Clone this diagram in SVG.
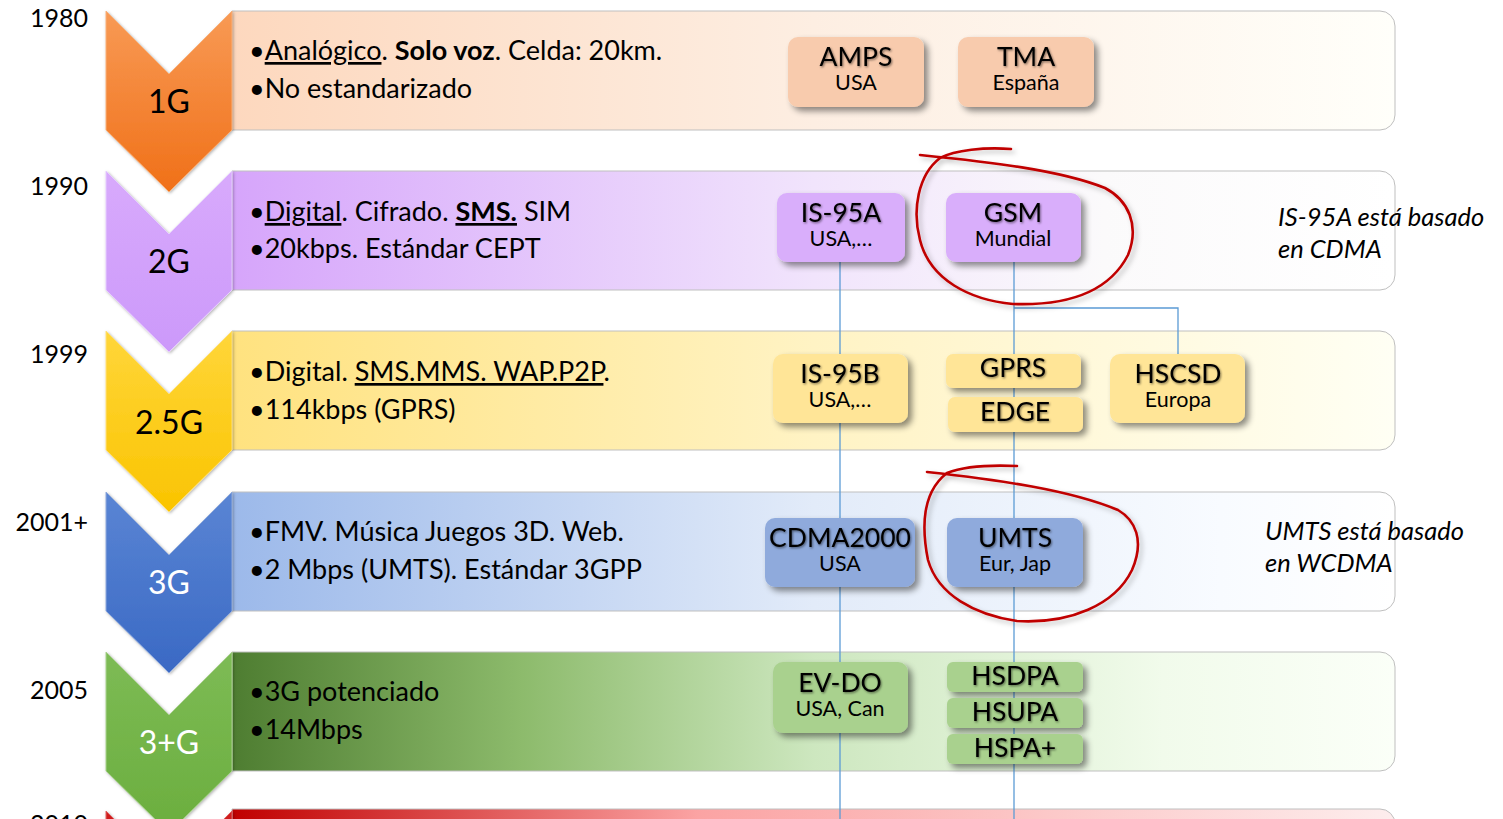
<svg xmlns="http://www.w3.org/2000/svg" width="1503" height="819" viewBox="0 0 1503 819">
<defs>
<style>
.yr{font-family:Lato,"Open Sans",sans-serif;font-size:25px;fill:#000;text-anchor:end}
.gl{font-family:Lato,"Open Sans",sans-serif;font-size:32px;text-anchor:middle}
.bt{font-family:Lato,"Open Sans",sans-serif;font-size:27px;fill:#000}
.nt{font-family:Lato,"Open Sans",sans-serif;font-size:26.5px;fill:#000;text-anchor:middle;filter:url(#ts)}
.ns{font-family:Lato,"Open Sans",sans-serif;font-size:21.5px;fill:#000;text-anchor:middle}
.note{font-family:Lato,"Open Sans",sans-serif;font-size:25.5px;font-style:italic;fill:#000}
.bar{stroke:#BFBFBF;stroke-width:1}
.box{filter:url(#sh)}
.conn{fill:none;stroke:#5B9BD5;stroke-width:1.3}
.red{fill:none;stroke:#C00000;stroke-width:2.6;stroke-linecap:round;filter:url(#rs)}
.chev{stroke-width:1}
</style>
<filter id="sh" x="-20%" y="-20%" width="150%" height="160%"><feDropShadow dx="4" dy="4" stdDeviation="3" flood-color="#000" flood-opacity="0.45"/></filter>
<filter id="ts" x="-10%" y="-10%" width="130%" height="140%"><feDropShadow dx="1" dy="1.2" stdDeviation="0.8" flood-color="#000" flood-opacity="0.5"/></filter>
<filter id="rs" x="-10%" y="-10%" width="130%" height="130%"><feDropShadow dx="3" dy="3" stdDeviation="2.5" flood-color="#000" flood-opacity="0.25"/></filter>
<filter id="cs" x="-10%" y="-10%" width="130%" height="130%"><feDropShadow dx="1" dy="1" stdDeviation="1.5" flood-color="#000" flood-opacity="0.3"/></filter>
<linearGradient id="b1" x1="0" y1="0" x2="1" y2="0"><stop offset="0" stop-color="#FDD8BE"/><stop offset="0.5" stop-color="#FDEEE2"/><stop offset="1" stop-color="#FFFFFA"/></linearGradient>
<linearGradient id="b2" x1="0" y1="0" x2="1" y2="0"><stop offset="0" stop-color="#D6A5FB"/><stop offset="0.5" stop-color="#F1E4FC"/><stop offset="0.75" stop-color="#FBFAFB"/><stop offset="1" stop-color="#FFFFFF"/></linearGradient>
<linearGradient id="b3" x1="0" y1="0" x2="1" y2="0"><stop offset="0" stop-color="#FFE27F"/><stop offset="0.5" stop-color="#FFF3C4"/><stop offset="1" stop-color="#FFFFF4"/></linearGradient>
<linearGradient id="b4" x1="0" y1="0" x2="1" y2="0"><stop offset="0" stop-color="#9CB9EA"/><stop offset="0.5" stop-color="#E2EBF9"/><stop offset="0.85" stop-color="#F8FBFF"/><stop offset="1" stop-color="#FFFFFF"/></linearGradient>
<linearGradient id="b5" x1="0" y1="0" x2="1" y2="0"><stop offset="0" stop-color="#4E7D31"/><stop offset="0.25" stop-color="#8DBB6C"/><stop offset="0.5" stop-color="#CDE7BF"/><stop offset="0.8" stop-color="#F1FBEB"/><stop offset="1" stop-color="#FBFFF8"/></linearGradient>
<linearGradient id="b6" x1="0" y1="0" x2="1" y2="0"><stop offset="0" stop-color="#C00000"/><stop offset="0.4" stop-color="#FBA3A3"/><stop offset="1" stop-color="#FDEDED"/></linearGradient>
<linearGradient id="c1" x1="0" y1="0" x2="0" y2="1"><stop offset="0" stop-color="#F89A55"/><stop offset="1" stop-color="#F07018"/></linearGradient>
<linearGradient id="c2" x1="0" y1="0" x2="0" y2="1"><stop offset="0" stop-color="#D8AAFC"/><stop offset="1" stop-color="#CC99FA"/></linearGradient>
<linearGradient id="c3" x1="0" y1="0" x2="0" y2="1"><stop offset="0" stop-color="#FFD63A"/><stop offset="1" stop-color="#FAC400"/></linearGradient>
<linearGradient id="c4" x1="0" y1="0" x2="0" y2="1"><stop offset="0" stop-color="#5A85D4"/><stop offset="1" stop-color="#3A69C4"/></linearGradient>
<linearGradient id="c5" x1="0" y1="0" x2="0" y2="1"><stop offset="0" stop-color="#7DBB55"/><stop offset="1" stop-color="#6BAE3E"/></linearGradient>
<linearGradient id="c6" x1="0" y1="0" x2="0" y2="1"><stop offset="0" stop-color="#D02020"/><stop offset="1" stop-color="#B00000"/></linearGradient>
<path id="chevp" d="M106,0 L169,63 L232,0 L232,119 L169,181 L106,119 Z"/>
<path id="barp" d="M232,0 H1380 A15,15 0 0 1 1395,15 V104 A15,15 0 0 1 1380,119 H232 Z"/>
</defs>
<rect width="1503" height="819" fill="#FFFFFF"/>

<!-- bars -->
<g id="bars">
<use href="#barp" y="11" fill="url(#b1)" class="bar"/>
<use href="#barp" y="171" fill="url(#b2)" class="bar"/>
<use href="#barp" y="331" fill="url(#b3)" class="bar"/>
<use href="#barp" y="492" fill="url(#b4)" class="bar"/>
<use href="#barp" y="652" fill="url(#b5)" class="bar"/>
<use href="#barp" y="809" fill="url(#b6)" class="bar"/>
</g>

<!-- chevrons -->
<g id="chevrons" filter="url(#cs)">
<use href="#chevp" y="811" fill="url(#c6)" stroke="#E06060" class="chev"/>
<use href="#chevp" y="652" fill="url(#c5)" stroke="#A9D18E" class="chev"/>
<use href="#chevp" y="492" fill="url(#c4)" stroke="#8FAADC" class="chev"/>
<use href="#chevp" y="331" fill="url(#c3)" stroke="#FFE07A" class="chev"/>
<use href="#chevp" y="171" fill="url(#c2)" stroke="#E6CCFF" class="chev"/>
<use href="#chevp" y="11" fill="url(#c1)" stroke="#F8B07A" class="chev"/>
</g>

<g id="years">
<text class="yr" x="88" y="27">1980</text>
<text class="yr" x="88" y="195">1990</text>
<text class="yr" x="88" y="363">1999</text>
<text class="yr" x="88" y="531">2001+</text>
<text class="yr" x="88" y="699">2005</text>
<text class="yr" x="88" y="833">2010</text>
</g>

<g id="labels">
<text class="gl" x="169" y="113" fill="#000">1G</text>
<text class="gl" x="169" y="273" fill="#000">2G</text>
<text class="gl" x="169" y="434" fill="#000">2.5G</text>
<text class="gl" x="169" y="594" fill="#FFF">3G</text>
<text class="gl" x="169" y="754" fill="#FFF">3+G</text>
</g>

<g id="bartext">
<text class="bt" x="249" y="60">•<tspan text-decoration="underline">Analógico</tspan>. <tspan font-weight="bold">Solo voz</tspan>. Celda: 20km.</text>
<text class="bt" x="249" y="98">•No estandarizado</text>
<text class="bt" x="249" y="221">•<tspan text-decoration="underline">Digital</tspan>. Cifrado. <tspan font-weight="bold" text-decoration="underline">SMS.</tspan> SIM</text>
<text class="bt" x="249" y="258">•20kbps. Estándar CEPT</text>
<text class="bt" x="249" y="381">•Digital. <tspan text-decoration="underline">SMS.MMS. WAP.P2P</tspan>.</text>
<text class="bt" x="249" y="419">•114kbps (GPRS)</text>
<text class="bt" x="249" y="541">•FMV. Música Juegos 3D. Web.</text>
<text class="bt" x="249" y="579">•2 Mbps (UMTS). Estándar 3GPP</text>
<text class="bt" x="249" y="701">•3G potenciado</text>
<text class="bt" x="249" y="739">•14Mbps</text>
</g>

<!-- connectors -->
<g id="connectors">
<line class="conn" x1="840" y1="262" x2="840" y2="819"/>
<line class="conn" x1="1014" y1="262" x2="1014" y2="819"/>
<polyline class="conn" points="1014,308 1178,308 1178,354"/>
</g>

<g id="n-amps"><rect class="box" x="788" y="37" width="136" height="70" rx="10" fill="#F8CBAD"/><text class="nt" x="856" y="66">AMPS</text><text class="ns" x="856" y="90">USA</text></g>
<g id="n-tma"><rect class="box" x="958" y="37" width="136" height="70" rx="10" fill="#F8CBAD"/><text class="nt" x="1026" y="66">TMA</text><text class="ns" x="1026" y="90">España</text></g>

<g id="n-is95a"><rect class="box" x="777" y="193" width="128" height="69" rx="10" fill="#D9AEFB"/><text class="nt" x="841" y="222">IS-95A</text><text class="ns" x="841" y="246">USA,…</text></g>
<g id="n-gsm"><rect class="box" x="946" y="193" width="135" height="69" rx="10" fill="#D9AEFB"/><text class="nt" x="1013" y="222">GSM</text><text class="ns" x="1013" y="246">Mundial</text></g>

<g id="n-is95b"><rect class="box" x="773" y="354" width="135" height="69" rx="10" fill="#FFE597"/><text class="nt" x="840" y="383">IS-95B</text><text class="ns" x="840" y="407">USA,…</text></g>
<g id="n-gprs"><rect class="box" x="946" y="354" width="135" height="34" rx="7" fill="#FFE597"/><text class="nt" x="1013" y="377">GPRS</text></g>
<g id="n-edge"><rect class="box" x="948" y="397" width="135" height="35" rx="7" fill="#FFE597"/><text class="nt" x="1015" y="421">EDGE</text></g>
<g id="n-hscsd"><rect class="box" x="1110" y="354" width="135" height="69" rx="10" fill="#FFE597"/><text class="nt" x="1178" y="383">HSCSD</text><text class="ns" x="1178" y="407">Europa</text></g>

<g id="n-cdma2000"><rect class="box" x="765" y="518" width="150" height="69" rx="10" fill="#8FAADC"/><text class="nt" x="840" y="547">CDMA2000</text><text class="ns" x="840" y="571">USA</text></g>
<g id="n-umts"><rect class="box" x="947" y="518" width="136" height="69" rx="10" fill="#8FAADC"/><text class="nt" x="1015" y="547">UMTS</text><text class="ns" x="1015" y="571">Eur, Jap</text></g>

<g id="n-evdo"><rect class="box" x="773" y="662" width="135" height="71" rx="10" fill="#A9D18E"/><text class="nt" x="840" y="692">EV-DO</text><text class="ns" x="840" y="716">USA, Can</text></g>
<g id="n-hsdpa"><rect class="box" x="947" y="662" width="136" height="30" rx="6" fill="#A9D18E"/><text class="nt" x="1015" y="685">HSDPA</text></g>
<g id="n-hsupa"><rect class="box" x="947" y="698" width="136" height="30" rx="6" fill="#A9D18E"/><text class="nt" x="1015" y="721">HSUPA</text></g>
<g id="n-hspa"><rect class="box" x="947" y="734" width="136" height="30" rx="6" fill="#A9D18E"/><text class="nt" x="1015" y="757">HSPA+</text></g>

<g id="notes">
<text class="note" x="1278" y="226">IS-95A está basado</text>
<text class="note" x="1278" y="258">en CDMA</text>
<text class="note" x="1265" y="540">UMTS está basado</text>
<text class="note" x="1265" y="572">en WCDMA</text>
</g>

<g id="annotations">
<path class="red" d="M1011,149 C985,147 955,150 940,158 C918,175 912,210 920,240 C930,280 970,300 1013,304 C1070,306 1110,290 1128,255 C1140,225 1128,200 1105,188 C1060,170 990,162 920,155"/>
<path class="red" d="M1017,466 C995,465 965,466 947,473 C925,490 920,520 928,560 C938,595 975,615 1017,621 C1070,624 1115,605 1132,570 C1145,540 1135,520 1118,510 C1070,490 1000,480 927,472"/>
</g>
</svg>
